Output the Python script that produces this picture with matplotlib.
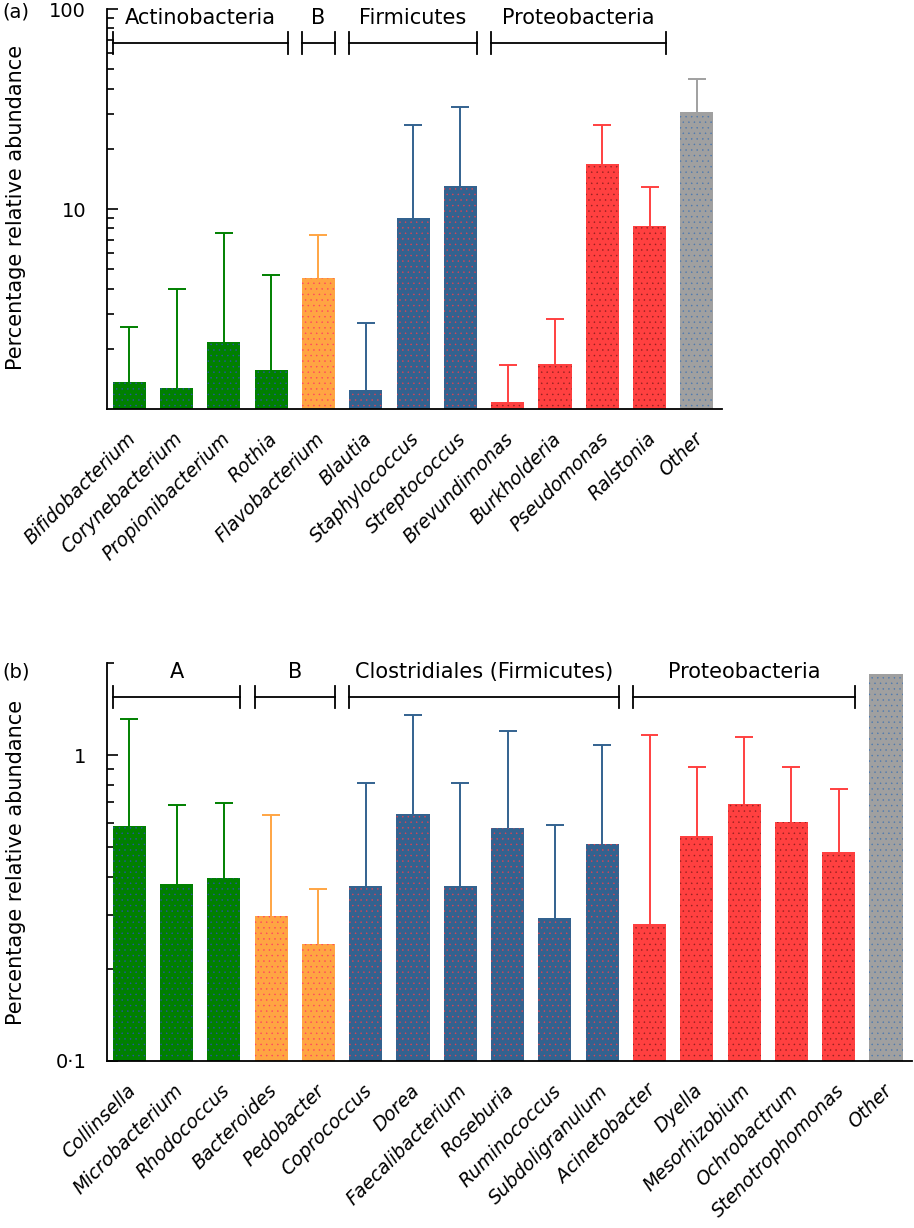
import numpy as np
import matplotlib
matplotlib.use('Agg')
import matplotlib.pyplot as plt
from matplotlib.transforms import blended_transform_factory, offset_copy
from matplotlib.ticker import FixedLocator, NullFormatter

# --- data ---
top_labels = ['Bifidobacterium', 'Corynebacterium', 'Propionibacterium', 'Rothia',
              'Flavobacterium', 'Blautia', 'Staphylococcus', 'Streptococcus',
              'Brevundimonas', 'Burkholderia', 'Pseudomonas', 'Ralstonia', 'Other']
top_means = [1.36, 1.27, 2.16, 1.57, 4.52, 1.24, 9.0, 13.0, 1.08, 1.68, 16.8, 8.2, 30.5]
top_upper = [2.57, 4.0, 7.6, 4.68, 7.4, 2.69, 26.3, 32.4, 1.66, 2.82, 26.3, 12.9, 44.7]
top_phylum = ['act', 'act', 'act', 'act', 'bac', 'fir', 'fir', 'fir',
              'pro', 'pro', 'pro', 'pro', 'oth']
top_brackets = [(0, 3, 'Actinobacteria'), (4, 4, 'B'), (5, 7, 'Firmicutes'),
                (8, 11, 'Proteobacteria')]

bot_labels = ['Collinsella', 'Microbacterium', 'Rhodococcus', 'Bacteroides', 'Pedobacter',
              'Coprococcus', 'Dorea', 'Faecalibacterium', 'Roseburia', 'Ruminococcus',
              'Subdoligranulum', 'Acinetobacter', 'Dyella', 'Mesorhizobium',
              'Ochrobactrum', 'Stenotrophomonas', 'Other']
bot_means = [0.586, 0.379, 0.396, 0.298, 0.241, 0.373, 0.641, 0.373, 0.577, 0.293,
             0.512, 0.281, 0.543, 0.692, 0.604, 0.482, 1.84]
bot_upper = [1.31, 0.687, 0.697, 0.637, 0.365, 0.81, 1.35, 0.81, 1.20, 0.590,
             1.08, 1.16, 0.914, 1.15, 0.914, 0.774, np.nan]
bot_phylum = ['act', 'act', 'act', 'bac', 'bac', 'fir', 'fir', 'fir', 'fir', 'fir',
              'fir', 'pro', 'pro', 'pro', 'pro', 'pro', 'oth']
bot_brackets = [(0, 2, 'A'), (3, 4, 'B'), (5, 10, 'Clostridiales (Firmicutes)'),
                (11, 15, 'Proteobacteria')]

colors = {'act': '#008000', 'bac': '#FFA543', 'fir': '#33628F',
          'pro': '#FF4040', 'oth': '#A0A0A0'}
# colour of the speckle dots inside the bars
dots = {'act': '#2850B0', 'bac': '#FF4060', 'fir': '#E84050',
        'pro': '#902020', 'oth': '#4A78B0'}

plt.rcParams['font.family'] = ['DejaVu Sans']
plt.rcParams['hatch.linewidth'] = 0.3

fig = plt.figure(figsize=(9.14, 12.28), dpi=100)
ax1 = fig.add_axes([107/914, 1 - 409/1228, 615/914, 400/1228])
ax2 = fig.add_axes([107/914, 1 - 1061/1228, 805/914, 398/1228])


def draw_panel(ax, labels, means, upper, phylum, brackets, ylim, majors, major_lbls, minors, xmax):
    x = np.arange(len(labels))
    means = np.array(means)
    upper = np.array(upper, dtype=float)
    cols = [colors[p] for p in phylum]
    ax.set_yscale('log')
    ax.set_ylim(*ylim)
    ax.set_xlim(-0.47, xmax)
    bars = ax.bar(x, means - ylim[0], bottom=ylim[0], width=0.7, color=cols,
                  linewidth=0, zorder=2)
    for b, p in zip(bars, phylum):
        b.set_edgecolor(dots[p])
        b.set_hatch('...')
    # upward-only error bars with a cap
    ok = ~np.isnan(upper)
    ecols = [c for c, k in zip(cols, ok) if k]
    ax.vlines(x[ok], means[ok], upper[ok], colors=ecols, lw=1.4, zorder=1)
    ax.hlines(upper[ok], x[ok] - 0.19, x[ok] + 0.19, colors=ecols, lw=1.4, zorder=1)

    for s in ['top', 'right']:
        ax.spines[s].set_visible(False)
    for s in ['left', 'bottom']:
        ax.spines[s].set_linewidth(1.3)
        ax.spines[s].set_zorder(3)
    ax.yaxis.set_major_locator(FixedLocator(majors))
    ax.set_yticklabels(major_lbls, fontsize=14)
    ax.yaxis.set_minor_locator(FixedLocator(minors))
    ax.yaxis.set_minor_formatter(NullFormatter())
    ax.tick_params(axis='y', which='major', direction='in', length=8, width=1.2, pad=15)
    ax.tick_params(axis='y', which='minor', direction='in', length=5, width=1.2)
    ax.set_xticks([])

    # rotated italic genus names
    lbl_tr = offset_copy(ax.get_xaxis_transform(), fig=fig, x=-2.5, y=-14.5, units='points')
    for xi, lab in zip(x, labels):
        ax.text(xi, 0, lab, transform=lbl_tr, rotation=45, rotation_mode='anchor',
                ha='right', va='top', fontsize=13.5, style='italic')

    # phylum brackets
    tr = blended_transform_factory(ax.transData, ax.transAxes)
    for i0, i1, name in brackets:
        xa, xb = i0 - 0.35, i1 + 0.35
        ax.plot([xa, xb], [0.915, 0.915], color='black', lw=1.3, transform=tr, clip_on=False)
        for xe in (xa, xb):
            ax.plot([xe, xe], [0.888, 0.942], color='black', lw=1.3, transform=tr, clip_on=False)
        ax.text((xa + xb) / 2, 0.977, name, transform=tr, ha='center', va='center', fontsize=15)


draw_panel(ax1, top_labels, top_means, top_upper, top_phylum, top_brackets,
           (1, 100), [10, 100], ['10', '100'],
           [2, 3, 4, 5, 6, 7, 8, 9, 20, 30, 40, 50, 60, 70, 80, 90], 12.53)
draw_panel(ax2, bot_labels, bot_means, bot_upper, bot_phylum, bot_brackets,
           (0.1, 2.0), [0.1, 1], ['0\u00b71', '1'],
           [0.2, 0.3, 0.4, 0.5, 0.6, 0.7, 0.8, 0.9, 2.0], 16.55)

fig.text(2/914, 1 - 12/1228, '(a)', fontsize=14, ha='left', va='center')
fig.text(2/914, 1 - 672/1228, '(b)', fontsize=14, ha='left', va='center')
fig.text(16/914, 1 - 207/1228, 'Percentage relative abundance', rotation=90,
         fontsize=15, ha='center', va='center')
fig.text(16/914, 1 - 862/1228, 'Percentage relative abundance', rotation=90,
         fontsize=15, ha='center', va='center')

fig.savefig('out.png', dpi=100)
